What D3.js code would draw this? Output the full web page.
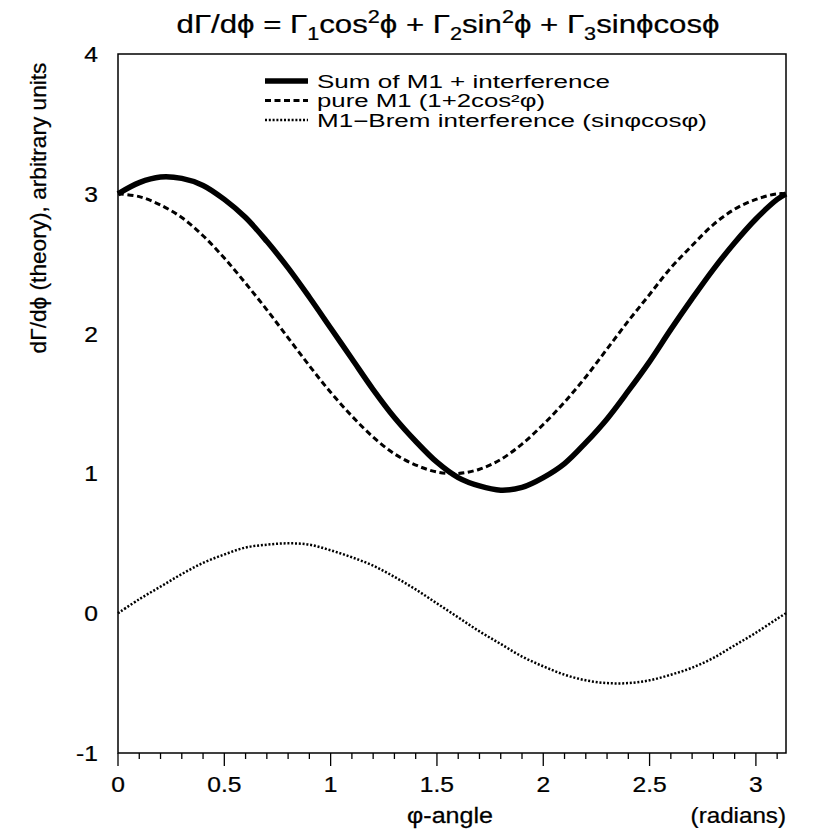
<!DOCTYPE html>
<html>
<head>
<meta charset="utf-8">
<script src="https://cdn.jsdelivr.net/npm/d3@7"></script>
<style>
  body { margin: 0; background: #fff; }
  text { font-family: "Liberation Sans", Arial, sans-serif; fill: #000; }
  .heavy { stroke: #000; stroke-width: 0.25px; }
</style>
</head>
<body>
<div id="vis-container"></div>
<script>
// Set dimensions and margins for the plot
const width = 813;
const height = 831;
const margin = { left: 118, right: 27, top: 54, bottom: 78 };

const phi = [0, 0.1, 0.2, 0.3, 0.4, 0.5, 0.6, 0.7, 0.8, 0.9, 1.0, 1.1, 1.2, 1.3, 1.4, 1.5,
  1.6, 1.7, 1.8, 1.9, 2.0, 2.1, 2.2, 2.3, 2.4, 2.5, 2.6, 2.7, 2.8, 2.9, 3.0, 3.1, Math.PI];
const sumValues = [3.00, 3.08, 3.12, 3.11, 3.06, 2.96, 2.83, 2.66, 2.47, 2.26, 2.04, 1.82, 1.60,
  1.40, 1.23, 1.08, 0.97, 0.91, 0.88, 0.90, 0.97, 1.07, 1.22, 1.39, 1.59, 1.80, 2.03, 2.25,
  2.46, 2.65, 2.82, 2.96, 3.00];
const pureM1 = [3.00, 2.98, 2.92, 2.83, 2.70, 2.54, 2.36, 2.17, 1.97, 1.77, 1.58, 1.41, 1.26,
  1.14, 1.06, 1.01, 1.00, 1.03, 1.10, 1.21, 1.35, 1.51, 1.69, 1.89, 2.09, 2.28, 2.47, 2.63,
  2.78, 2.89, 2.96, 3.00, 3.00];
const interference = [0.00, 0.10, 0.19, 0.28, 0.36, 0.42, 0.47, 0.49, 0.50, 0.49, 0.45, 0.40,
  0.34, 0.26, 0.17, 0.07, -0.03, -0.13, -0.22, -0.31, -0.38, -0.44, -0.48, -0.50, -0.50,
  -0.48, -0.44, -0.39, -0.32, -0.23, -0.14, -0.04, 0.00];

const xTicks = [0, 0.5, 1, 1.5, 2, 2.5, 3];
const yTicks = [-1, 0, 1, 2, 3, 4];
const legendLabels = ["Sum of M1 + interference", "pure M1 (1+2cos²φ)", "M1−Brem interference (sinφcosφ)"];

const svg = d3.select("#vis-container")
  .append("svg")
  .attr("width", width)
  .attr("height", height);

const xScale = d3.scaleLinear()
  .domain([0, Math.PI])
  .range([margin.left, width - margin.right]);

const yScale = d3.scaleLinear()
  .domain([-1, 4])
  .range([height - margin.bottom, margin.top]);

const x0 = margin.left, x1 = width - margin.right;
const y0 = height - margin.bottom, y1 = margin.top;

// the reference's lettering is a bit wider than Liberation Sans, so stretch it
const sx = 1.12;

// frame
svg.append("rect")
  .attr("x", x0).attr("y", y1)
  .attr("width", x1 - x0).attr("height", y0 - y1)
  .attr("fill", "none").attr("stroke", "#000").attr("stroke-width", 1.5);

// x-axis ticks (pointing down, majors every 0.5, minors every 0.1)
const minor = d3.range(0, 3.15, 0.1).map(d => +d.toFixed(1));
svg.append("g").selectAll("line")
  .data(minor)
  .join("line")
  .attr("x1", d => xScale(d)).attr("x2", d => xScale(d))
  .attr("y1", y0)
  .attr("y2", d => Math.abs(d * 2 - Math.round(d * 2)) < 1e-6 ? y0 + 13 : y0 + 6)
  .attr("stroke", "#000").attr("stroke-width", 1.3);

svg.append("g").selectAll("text")
  .data(xTicks)
  .join("text")
  .attr("class", "heavy")
  .attr("transform", d => `translate(${xScale(d)},${y0 + 39}) scale(${sx},1)`)
  .attr("text-anchor", "middle")
  .attr("font-size", "22px")
  .text(d => d);

svg.append("g").selectAll("text")
  .data(yTicks)
  .join("text")
  .attr("class", "heavy")
  .attr("transform", d => `translate(${x0 - 20},${yScale(d) + 8}) scale(${sx},1)`)
  .attr("text-anchor", "end")
  .attr("font-size", "22px")
  .text(d => d);

// axis titles
svg.append("text")
  .attr("class", "heavy")
  .attr("transform", `translate(493,823) scale(1.14,1)`)
  .attr("text-anchor", "end")
  .attr("font-size", "22px")
  .text("φ-angle");

svg.append("text")
  .attr("class", "heavy")
  .attr("transform", `translate(786,823) scale(1.1,1)`)
  .attr("text-anchor", "end")
  .attr("font-size", "22px")
  .text("(radians)");

svg.append("text")
  .attr("class", "heavy")
  .attr("transform", "translate(46,208) rotate(-90) scale(1.03,1)")
  .attr("text-anchor", "middle")
  .attr("font-size", "22px")
  .text("dΓ/dϕ (theory), arbitrary units");

// title
const title = svg.append("text")
  .attr("class", "heavy")
  .attr("transform", "translate(448,33) scale(1.2,1)")
  .attr("text-anchor", "middle")
  .attr("font-size", "26px");
title.append("tspan").text("dΓ/dϕ = Γ");
title.append("tspan").attr("font-size", "18px").attr("dy", 7).text("1");
title.append("tspan").attr("dy", -7).text("cos");
title.append("tspan").attr("font-size", "18px").attr("dy", -10).text("2");
title.append("tspan").attr("dy", 10).text("ϕ + Γ");
title.append("tspan").attr("font-size", "18px").attr("dy", 7).text("2");
title.append("tspan").attr("dy", -7).text("sin");
title.append("tspan").attr("font-size", "18px").attr("dy", -10).text("2");
title.append("tspan").attr("dy", 10).text("ϕ + Γ");
title.append("tspan").attr("font-size", "18px").attr("dy", 7).text("3");
title.append("tspan").attr("dy", -7).text("sinϕcosϕ");

// curves
const line = d3.line()
  .x(d => xScale(d[0]))
  .y(d => yScale(d[1]))
  .curve(d3.curveCatmullRom);

const series = [
  { values: interference, width: 2.5, dash: "2,1.8" },
  { values: pureM1, width: 3, dash: "6,3.5" },
  { values: sumValues, width: 5.5, dash: null }
];

svg.append("g").selectAll("path")
  .data(series)
  .join("path")
  .attr("d", s => line(phi.map((p, i) => [p, s.values[i]])))
  .attr("fill", "none")
  .attr("stroke", "#000")
  .attr("stroke-width", s => s.width)
  .attr("stroke-dasharray", s => s.dash);

// legend
const legendStyles = [series[2], series[1], series[0]];
const legendWidths = [293, 228, 390];
const legend = svg.append("g");
legendLabels.forEach((lab, i) => {
  const ly = 81 + i * 19.5;
  legend.append("line")
    .attr("x1", 265).attr("x2", 308)
    .attr("y1", ly).attr("y2", ly)
    .attr("stroke", "#000")
    .attr("stroke-width", legendStyles[i].width)
    .attr("stroke-dasharray", legendStyles[i].dash);
  legend.append("text")
    .attr("x", 317).attr("y", ly + 6.5)
    .attr("font-family", "DejaVu Sans")
    .attr("font-size", "18px")
    .attr("textLength", legendWidths[i])
    .attr("lengthAdjust", "spacingAndGlyphs")
    .text(lab);
});
</script>
</body>
</html>
